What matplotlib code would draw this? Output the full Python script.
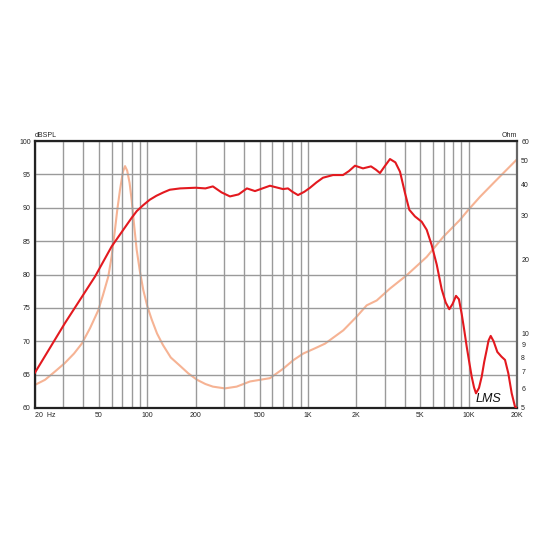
import matplotlib
matplotlib.use("Agg")
import matplotlib.pyplot as plt
from matplotlib.ticker import FixedLocator, NullLocator

plt.rcParams['font.family'] = ['Liberation Sans', 'DejaVu Sans']

# SPL response (dB)
spl_freq = [20, 30.7, 47.3, 60, 69.5, 80, 86, 94.4, 103.6, 114, 126, 138, 160,
            200, 230, 256, 290, 327, 370, 417, 468, 580, 699, 751, 800, 867, 950,
            1030, 1130, 1240, 1431, 1652, 1800, 1962, 2200, 2468, 2650, 2806, 3000, 3240,
            3500, 3740, 4018, 4272, 4635, 5105, 5483, 5890, 6328, 6795, 7200, 7578, 7950,
            8344, 8700, 9052, 9400, 9726, 10100, 10448, 10800, 11112, 11600, 12062, 12500,
            12954, 13300, 13720, 14300, 15084, 16000, 16844, 17658, 18535, 19432, 20000]
spl_db = [65.3, 72.7, 79.7, 84.2, 86.4, 88.5, 89.5, 90.4, 91.2, 91.8, 92.3, 92.7, 92.9,
          93.0, 92.9, 93.2, 92.3, 91.7, 92.0, 92.9, 92.5, 93.3, 92.8,
          92.9, 92.4, 91.9, 92.4, 93.0, 93.8, 94.5, 94.9, 94.9, 95.5, 96.3, 95.9, 96.2,
          95.7, 95.2, 96.2, 97.3, 96.8, 95.4, 92.2, 89.7, 88.7, 87.9, 86.7, 84.4, 81.5,
          77.8, 75.8, 74.8, 75.6, 76.8, 76.3, 74.1, 71.6, 69.2, 66.8, 64.7, 63.1, 62.2,
          63.0, 64.7, 66.9, 68.7, 70.1, 70.8, 70.0, 68.4, 67.7, 67.2, 65.2, 62.2, 60.2,
          60.0]

# impedance (Ohm)
imp_freq = [20, 23.1, 26.5, 30.7, 35, 39.1, 44, 49.5, 53, 57.2, 60, 62.9, 65, 67.6, 70.5,
            72.7, 75, 77.6, 80, 83, 85.9, 90, 94.4, 100, 106.5, 115, 125, 140, 160, 180,
            204, 230, 256, 304, 360, 436, 580, 700, 810, 935, 1100, 1277, 1659, 2010, 2320,
            2678, 3240, 4116, 5483, 6956, 8832, 9950, 11770, 14500, 17000, 20000]
imp_ohm = [6.2, 6.5, 7.0, 7.6, 8.3, 9.1, 10.5, 12.4, 14.3, 17.0, 20.5, 26.2, 31.5, 38.0,
           45.0, 47.5, 45.5, 40.6, 34.5, 27.0, 21.8, 17.8, 15.0, 12.9, 11.4, 10.0, 9.0,
           8.0, 7.4, 6.9, 6.5, 6.25, 6.1, 6.0, 6.1, 6.4, 6.6, 7.2, 7.8, 8.3, 8.7, 9.1,
           10.3, 11.7, 13.0, 13.6, 15.2, 17.2, 20.4, 24.6, 28.8, 31.6, 35.7, 41.0, 45.5,
           50.6]

db_ticks = [60, 65, 70, 75, 80, 85, 90, 95, 100]
ohm_ticks = [5, 6, 7, 8, 9, 10, 20, 30, 40, 50, 60]
freq_ticks = [20, 50, 100, 200, 500, 1000, 2000, 5000, 10000, 20000]
freq_labels = ["20  Hz", "50", "100", "200", "500", "1K", "2K", "5K", "10K", "20K"]
grid_freqs = [20, 30, 40, 50, 60, 70, 80, 90, 100, 200, 300, 400, 500, 600, 700, 800, 900,
              1000, 2000, 3000, 4000, 5000, 6000, 7000, 8000, 9000, 10000, 20000]

fig = plt.figure(figsize=(5.5, 5.5), dpi=100)
ax = fig.add_axes([0.0636, 0.2582, 0.8764, 0.4854])
ax.set_xscale('log')
ax.set_xlim(20, 20000)
ax.set_ylim(60, 100)

for f in grid_freqs:
    ax.axvline(f, color='#9a9a9a', lw=1.0, zorder=1)
for d in db_ticks:
    ax.axhline(d, color='#9a9a9a', lw=1.0, zorder=1)

ax.xaxis.set_major_locator(FixedLocator(freq_ticks))
ax.xaxis.set_minor_locator(NullLocator())
ax.set_xticklabels(freq_labels)
ax.set_yticks(db_ticks)
ax.tick_params(axis='both', length=0, labelsize=5, pad=3, colors='#222222')
ax.get_xticklabels()[0].set_ha('left')

for side in ['left', 'bottom', 'top']:
    ax.spines[side].set_color('#222222')
    ax.spines[side].set_linewidth(1.6)
ax.spines['right'].set_color('#666666')
ax.spines['right'].set_linewidth(1.6)

ax2 = ax.twinx()
ax2.set_yscale('log')
ax2.set_ylim(5, 60)
ax2.yaxis.set_major_locator(FixedLocator(ohm_ticks))
ax2.yaxis.set_minor_locator(NullLocator())
ax2.set_yticklabels([str(t) for t in ohm_ticks])
ax2.tick_params(axis='y', length=0, labelsize=5, pad=3, colors='#222222')
for s in ax2.spines.values():
    s.set_visible(False)

ax2.plot(imp_freq, imp_ohm, color='#f6b394', lw=1.5, zorder=3)
ax.set_zorder(ax2.get_zorder() + 1)
ax.patch.set_visible(False)
ax.plot(spl_freq, spl_db, color='#e3191f', lw=1.5, zorder=4)

ax.text(0.0, 1.008, "dBSPL", transform=ax.transAxes, fontsize=5, ha='left', va='bottom',
        color='#222222')
ax.text(1.0, 1.008, "Ohm", transform=ax.transAxes, fontsize=5, ha='right', va='bottom',
        color='#222222')
ax.text(0.94, 0.012, "LMS", transform=ax.transAxes, fontsize=9, ha='center',
        va='bottom', style='italic', color='#111111')

fig.savefig("out.png", dpi=100, facecolor='white')
